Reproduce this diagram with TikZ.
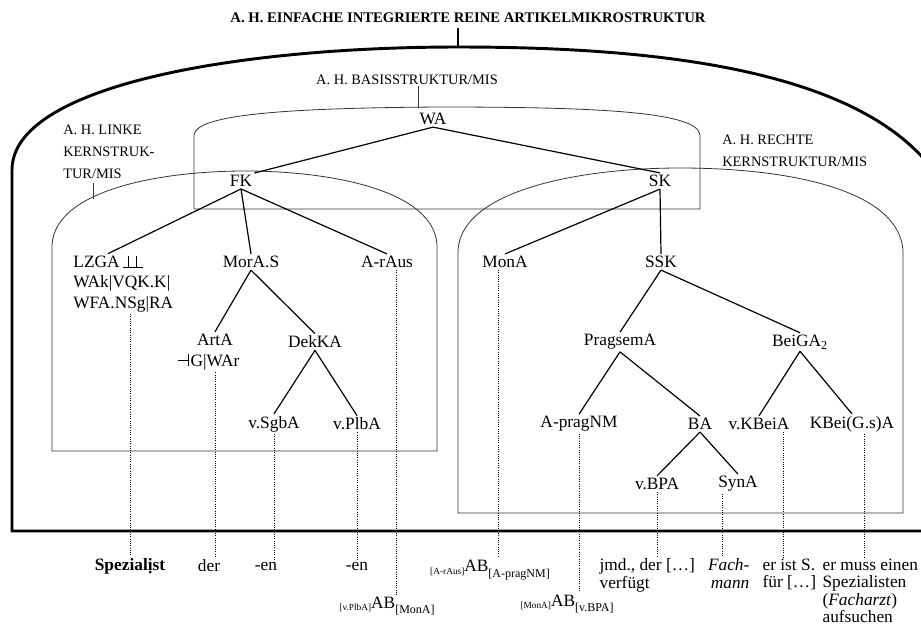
\documentclass[tikz,border=0pt]{standalone}
\usepackage{amsmath,amssymb}
\usepackage{fontspec}
\setmainfont{Liberation Serif}
\tikzset{
  lex/.style={inner sep=1.5pt, font=\fontsize{13}{15.6}\selectfont},
  caption/.style={inner sep=0pt, align=left, anchor=north west, font=\fontsize{10.8}{16.4}\selectfont},
  gloss/.style={inner sep=1pt, align=left, anchor=north west, font=\fontsize{13}{13.1}\selectfont},
  frame/.style={line width=0.6pt, black!80},
  branch/.style={line width=0.9pt},
  dotline/.style={densely dotted, line width=0.7pt}
}
\newcommand{\abmark}[2]{\raisebox{-0.3ex}{\fontsize{7}{7}\selectfont[#1]}AB\raisebox{-0.7ex}{\fontsize{9}{9}\selectfont[#2]}}
\newcommand{\dblperp}{\makebox[15pt][l]{\rule{15pt}{0.7pt}\hspace{-11.25pt}\rule{0.7pt}{9pt}\hspace{6pt}\rule{0.7pt}{9pt}}}
\newcommand{\lefttack}{\rule[4.2pt]{8pt}{0.7pt}\rule{0.7pt}{9pt}\hspace{1pt}}

\begin{document}
\begin{tikzpicture}[x=0.75pt,y=-0.75pt]
  \clip (0,0) rectangle (921,633);
  \node[font=\bfseries\fontsize{11}{13}\selectfont] (title) at (468,18) {A. H. EINFACHE INTEGRIERTE REINE ARTIKELMIKROSTRUKTUR};
  \coordinate (top) at (458,47);
  \draw[line width=2.2pt] (top |- title.south) -- (top);
  \draw[line width=2.2pt] (960,531) -- (12,531) -- (12,170) .. controls (12,85) and (240,47) .. (top) .. controls (660,47) and (870,70) .. (940,180);

  \draw[frame] (194,209) -- (194,135) .. controls (196,115) and (280,108) .. (440,107) .. controls (600,107) and (698,112) .. (700,135) -- (700,209) -- cycle;
  \draw[frame] (52,451) -- (52,245) .. controls (55,190) and (160,171) .. (245,171) .. controls (330,171) and (434,190) .. (437,245) -- (437,451) -- cycle;
  \draw[frame] (458,513) -- (458,250) .. controls (462,190) and (580,168) .. (680,168) .. controls (790,168) and (898,190) .. (903,250) -- (903,513) -- cycle;

  \node[font=\fontsize{10.8}{13}\selectfont, inner sep=1pt] (basislab) at (407,80) {A. H. BASISSTRUKTUR/MIS};
  \coordinate (basistick) at (418,108);
  \draw[frame] (basislab.south -| basistick) -- (basistick);
  \node[caption] (linkelab) at (63,125) {A. H. LINKE\\KERNSTRUK-\\TUR/MIS};
  \coordinate (linketick) at (93,199);
  \draw[frame] (linketick |- linkelab.south) ++(0,4) -- (linketick);
  \node[caption] (rechtelab) at (722,135) {A. H. RECHTE\\KERNSTRUKTUR/MIS};

  \node[lex] (wa) at (433,119) {WA};
  \node[lex] (fk) at (241,181) {FK};
  \node[lex] (sk) at (660,181) {SK};
  \node[lex] (lzga) at (108,262) {LZGA\,\dblperp};
  \node[lex, align=left, anchor=north west] (wak) at (71,273) {WAk|VQK.K|\\WFA.NSg|RA};
  \node[lex] (mora) at (251,262) {MorA.S};
  \node[lex] (araus) at (387,262) {A-rAus};
  \node[lex, align=center] (arta) at (215,352) {ArtA\\\llap{\lefttack}G|WAr};
  \node[lex] (dekka) at (315,342) {DekKA};
  \node[lex] (sgba) at (274,424) {v.SgbA};
  \node[lex] (plba) at (357,424) {v.PlbA};
  \node[lex] (mona) at (505,262) {MonA};
  \node[lex] (ssk) at (661,262) {SSK};
  \node[lex] (pragsem) at (620,342) {PragsemA};
  \node[lex] (beiga) at (800,342) {BeiGA\textsubscript{2}};
  \node[lex] (apragnm) at (579,424) {A-pragNM};
  \node[lex] (ba) at (700,424) {BA};
  \node[lex] (kbeia) at (759,424) {v.KBeiA};
  \node[lex] (kbeigs) at (852,424) {KBei(G.s)A};
  \node[lex] (bpa) at (657,484) {v.BPA};
  \node[lex] (syna) at (738,484) {SynA};

  \draw[branch] (wa.south) -- (fk.north east);
  \draw[branch] (wa.south) -- (sk.north);
  \foreach \kid in {lzga,mora,araus} \draw[branch] (fk.south) -- (\kid.north);
  \foreach \kid in {arta,dekka} \draw[branch] (mora.south) -- (\kid.north);
  \foreach \kid in {sgba,plba} \draw[branch] (dekka.south) -- (\kid.north);
  \foreach \kid in {mona,ssk} \draw[branch] (sk.south) -- (\kid.north);
  \foreach \kid in {pragsem,beiga} \draw[branch] (ssk.south) -- (\kid.north);
  \foreach \kid in {apragnm,ba} \draw[branch] (pragsem.south) -- (\kid.north);
  \foreach \kid in {kbeia,kbeigs} \draw[branch] (beiga.south) -- (\kid.north);
  \foreach \kid in {bpa,syna} \draw[branch] (ba.south) -- (\kid.north);

  \node[lex, font=\bfseries\fontsize{13}{15}\selectfont] (spez) at (130,566) {Spezialịst};
  \node[lex] (der) at (209,566) {der};
  \node[lex] (enone) at (266,566) {-en};
  \node[lex] (entwo) at (357,566) {-en};
  \node[lex] (abone) at (387,606) {\abmark{v.PlbA}{MonA}};
  \node[lex] (abtwo) at (490,570) {\abmark{A-rAus}{A-pragNM}};
  \node[lex] (abthree) at (567,604) {\abmark{MonA}{v.BPA}};
  \node[gloss] (jmd) at (598,557) {jmd., der […]\\verfügt};
  \node[gloss, align=right, anchor=north east, font=\itshape\fontsize{13}{13.1}\selectfont] (fach) at (751,557) {Fach-\\mann};
  \node[gloss] (erist) at (761,557) {er ist S.\\für […]};
  \node[gloss] (ermuss) at (821,557) {er muss einen\\Spezialisten\\(\textit{Facharzt})\\aufsuchen};

  \draw[dotline] (wak.south -| spez) -- (spez.north);
  \draw[dotline] (arta.south) -- (arta.south |- der.north);
  \draw[dotline] (sgba.south) -- (sgba.south |- enone.north);
  \draw[dotline] (plba.south) -- (entwo.north);
  \draw[dotline] ([xshift=7]araus.south) -- ([xshift=7]araus.south |- abone.north);
  \draw[dotline] ([xshift=-5]mona.south) -- ([xshift=-5]mona.south |- abtwo.north);
  \draw[dotline] (apragnm.south) -- (apragnm.south |- abthree.north);
  \draw[dotline] (bpa.south) -- (bpa.south |- jmd.north);
  \draw[dotline] ([xshift=-12]syna.south) -- ([xshift=-12]syna.south |- fach.north);
  \draw[dotline] ([xshift=-6]kbeia.south east) -- ([xshift=-6]kbeia.south east |- erist.north);
  \draw[dotline] ([xshift=9]kbeigs.south) -- ([xshift=9]kbeigs.south |- ermuss.north);
\end{tikzpicture}
\end{document}
